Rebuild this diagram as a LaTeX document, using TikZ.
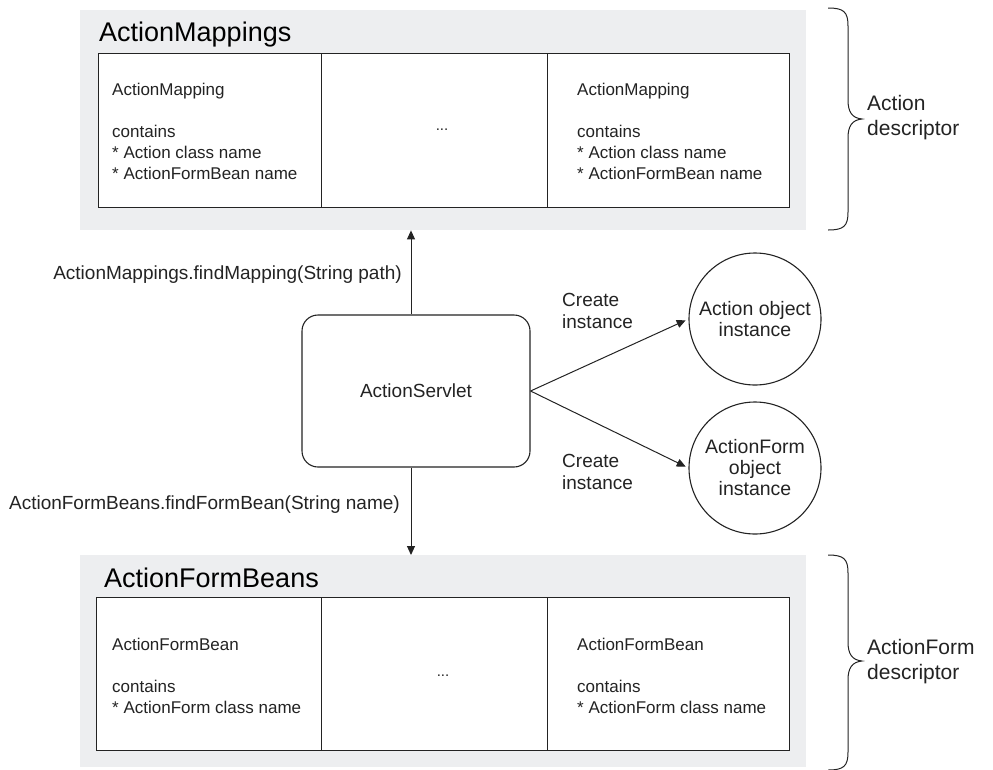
\documentclass[tikz,border=0pt]{standalone}
\usepackage{fontspec}
\setmainfont{Liberation Sans}
\usetikzlibrary{arrows.meta}
\definecolor{panelgray}{RGB}{237,238,240}
\definecolor{ink}{RGB}{35,35,35}

\begin{document}
\begin{tikzpicture}[x=1pt,y=-1pt,
  panel/.style={fill=panelgray, draw=none, anchor=north west, inner sep=0pt},
  cell/.style={draw=ink, fill=white, line width=1.2pt, anchor=north west, inner sep=0pt},
  celltext/.style={font=\fontsize{17}{21}\selectfont, align=left, anchor=west, text=ink, inner sep=0pt},
  dots/.style={font=\fontsize{15}{18}\selectfont, text=ink, inner sep=0pt},
  title/.style={font=\fontsize{27}{31}\selectfont, anchor=base west, text=black, inner sep=0pt},
  lbl/.style={font=\fontsize{19}{22}\selectfont, text=ink, inner sep=0pt},
  desc/.style={font=\fontsize{21}{25}\selectfont, text=ink, align=left, anchor=west, inner sep=0pt},
  obj/.style={circle, draw=ink, line width=1.1pt, minimum size=132pt, inner sep=0pt,
    align=center, font=\fontsize{19.5}{21}\selectfont, text=ink},
  conn/.style={draw=ink, line width=1pt, -{Triangle[length=9pt,width=8pt]}},
  bracepath/.style={draw=ink, line width=1pt}
]
\useasboundingbox (0,0) rectangle (993,769);

% grey group panels
\node[panel, minimum width=726pt, minimum height=220pt] (maps) at (80,10) {};
\node[panel, minimum width=726pt, minimum height=212pt] (beans) at (80,555) {};

% ActionMappings table
\node[title] (mapstitle) at (99,41) {ActionMappings};
\node[cell, minimum width=223pt, minimum height=154pt] (m1) at (98,53) {};
\node[cell, minimum width=226pt, minimum height=154pt] (m2) at (321,53) {};
\node[cell, minimum width=242pt, minimum height=154pt] (m3) at (547,53) {};
\node[celltext] (m1t) at (112,131) {ActionMapping\\[21pt]contains\\{}* Action class name\\{}* ActionFormBean name};
\node[dots] (m2t) at (442,130) {...};
\node[celltext] (m3t) at (577,131) {ActionMapping\\[21pt]contains\\{}* Action class name\\{}* ActionFormBean name};

% ActionFormBeans table
\node[title] (beanstitle) at (104,587) {ActionFormBeans};
\node[cell, minimum width=225pt, minimum height=153pt] (b1) at (96,597) {};
\node[cell, minimum width=226pt, minimum height=153pt] (b2) at (321,597) {};
\node[cell, minimum width=242pt, minimum height=153pt] (b3) at (547,597) {};
\node[celltext] (b1t) at (112,676) {ActionFormBean\\[21pt]contains\\{}* ActionForm class name};
\node[dots] (b2t) at (443,676) {...};
\node[celltext] (b3t) at (577,676) {ActionFormBean\\[21pt]contains\\{}* ActionForm class name};

% controller and created objects
\node[draw=ink, line width=1.1pt, rounded corners=16pt, minimum width=228pt, minimum height=152pt,
  font=\fontsize{19}{22}\selectfont, text=ink] (servlet) at (416,391) {ActionServlet};
\node[obj] (act) at (755,319) {Action object\\instance};
\node[obj] (form) at (755,468) {ActionForm\\object\\instance};

% lookups into the descriptor collections
\coordinate (tap) at (411,0);
\draw[conn] (servlet.north -| tap) -- (maps.south -| tap);
\draw[conn] (servlet.south -| tap) -- (beans.north -| tap);
\node[lbl, anchor=east] (lmap) at (402,275) {ActionMappings.findMapping(String path)};
\node[lbl, anchor=east] (lbean) at (400,505) {ActionFormBeans.findFormBean(String name)};

% instance creation
\draw[conn, shorten >=3pt] (servlet.east) -- (act.west);
\draw[conn, shorten >=3pt] (servlet.east) -- (form.west);
\node[lbl, align=left, anchor=west] (c1) at (562,311) {Create\\instance};
\node[lbl, align=left, anchor=west] (c2) at (562,472) {Create\\instance};

% descriptor braces
\draw[bracepath] (828,8) .. controls (844,8) and (848,12) .. (848,26) -- (848,100)
  .. controls (848,112) and (852,118) .. (862,119)
  .. controls (852,120) and (848,126) .. (848,138) -- (848,212)
  .. controls (848,226) and (844,230) .. (828,230);
\node[desc] (d1) at (867,118) {Action\\descriptor};

\draw[bracepath] (828,555) .. controls (844,555) and (848,559) .. (848,573) -- (848,642)
  .. controls (848,654) and (852,660) .. (862,661)
  .. controls (852,662) and (848,668) .. (848,680) -- (848,752)
  .. controls (848,766) and (844,770) .. (828,770);
\node[desc] (d2) at (867,662) {ActionForm\\descriptor};
\end{tikzpicture}
\end{document}
